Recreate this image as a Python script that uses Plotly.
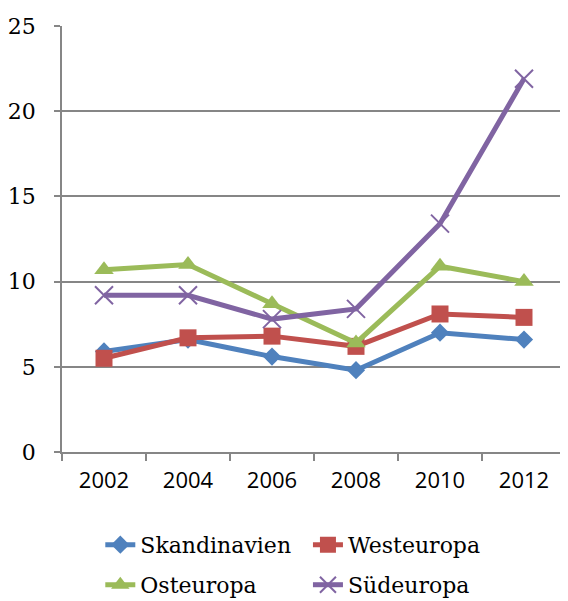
import plotly.graph_objects as go

# -------------------------------------------------------
# Data
# -------------------------------------------------------
years = ["2002", "2004", "2006", "2008", "2010", "2012"]
skandinavien = [5.9, 6.6, 5.6, 4.8, 7.0, 6.6]
westeuropa = [5.5, 6.7, 6.8, 6.2, 8.1, 7.9]
osteuropa = [10.7, 11.0, 8.7, 6.4, 10.9, 10.0]
suedeuropa = [9.2, 9.2, 7.8, 8.4, 13.4, 21.9]

y_ticks = [0, 5, 10, 15, 20, 25]

SERIF = "DejaVu Serif"
SANS = "Open Sans"

# one legend per entry so the 2x2 grid sits where the reference has it
series = [
    ("Skandinavien", skandinavien, "#4F81BD", dict(symbol="diamond", size=14), "legend", (0.076, -0.218)),
    ("Westeuropa", westeuropa, "#C0504D", dict(symbol="square", size=17), "legend2", (0.488, -0.218)),
    ("Osteuropa", osteuropa, "#9BBB59", dict(symbol="triangle-up", size=17), "legend3", (0.076, -0.312)),
    ("Südeuropa", suedeuropa, "#8064A2", dict(symbol="x-thin", size=18,
                                               line=dict(width=2, color="#8064A2")), "legend4", (0.488, -0.312)),
]

fig = go.Figure()
legends = {}
for name, vals, color, marker, leg, (lx, ly) in series:
    fig.add_trace(go.Scatter(
        x=years, y=vals, name=name, mode="lines+markers",
        line=dict(color=color, width=5),
        marker=dict(color=color, **marker),
        legend=leg,
    ))
    legends[leg] = dict(
        x=lx, y=ly, orientation="h", xanchor="left", yanchor="middle",
        font=dict(family=SERIF, size=22, color="black"),
        bgcolor="rgba(0,0,0,0)", itemclick=False,
    )

# page body has an 8px margin, so the figure is 8px smaller than the window
fig.update_layout(
    width=560, height=593,
    margin=dict(l=54, r=2, t=18, b=149, autoexpand=False),
    paper_bgcolor="white", plot_bgcolor="white",
    showlegend=True,
    xaxis=dict(
        type="category", tickson="boundaries", ticks="outside", ticklen=7,
        tickcolor="#868686", tickwidth=1.5,
        showline=True, linecolor="#868686", linewidth=1.5,
        showgrid=False, range=[-0.5, 5.5],
        tickfont=dict(family=SANS, size=22, color="black"),
        ticklabelstandoff=8,
    ),
    yaxis=dict(
        range=[0, 25], tickvals=y_ticks, ticks="outside", ticklen=6,
        tickcolor="#868686", tickwidth=1.5,
        showline=True, linecolor="#868686", linewidth=1.5,
        showgrid=True, gridcolor="#868686", gridwidth=1.5,
        zeroline=False,
        tickfont=dict(family=SERIF, size=22, color="black"),
        ticklabelstandoff=14,
    ),
    **legends,
)

fig.write_html("out.html")
